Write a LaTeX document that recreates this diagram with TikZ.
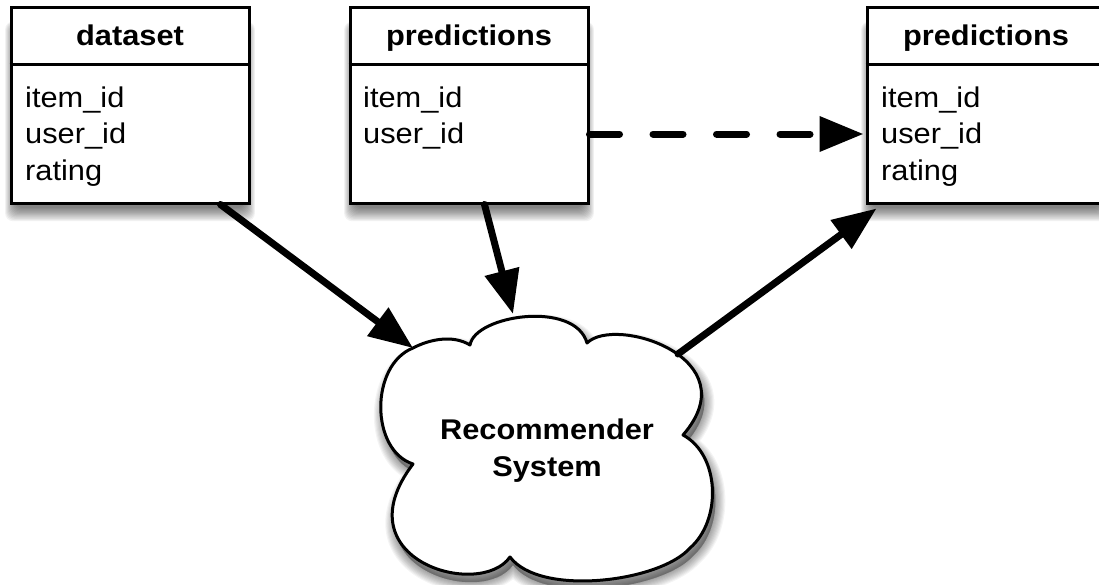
\documentclass[tikz,border=0pt]{standalone}
\usepackage{fontspec}
\setmainfont{Liberation Sans}[FakeStretch=1.08]
\usetikzlibrary{arrows.meta,calc}
\tikzset{
  tbl/.style={draw, line width=3pt, fill=white, minimum width=238pt, minimum height=196pt, inner sep=0pt},
  hdr/.style={font=\bfseries\fontsize{28.5}{32}\selectfont, anchor=base, inner sep=0pt},
  fld/.style={font=\fontsize{28.5}{32}\selectfont, anchor=base west, inner sep=0pt},
  flow/.style={line width=7pt, line cap=round, -{Triangle[length=44pt,width=34pt]}},
  dflow/.style={flow, dash pattern=on 30pt off 33.5pt},
  cloudtxt/.style={font=\bfseries\fontsize{28.5}{37}\selectfont, align=center, inner sep=0pt},
  cloudline/.style={draw, line width=3pt, fill=white, line join=round},
}
\def\cloudpath{(413,348) .. controls (428,340) and (452,334) .. (470,345)
 .. controls (475,315) and (575,300) .. (587,343)
 .. controls (615,315) and (750,358) .. (683,435)
 .. controls (720,455) and (722,520) .. (690,548)
 .. controls (660,582) and (540,597) .. (510,557)
 .. controls (480,600) and (340,560) .. (413,464)
 .. controls (370,450) and (370,365) .. (413,348) -- cycle}
\newcommand{\boxshadow}[4]{%
  \foreach \k in {0,...,11}{%
    \fill[black, opacity=0.05, rounded corners=8pt]
      (#1-0.9*\k+4, #2+20-0.5*\k) rectangle (#3+0.9*\k-4, #4+5+1.2*\k);}%
}
\begin{document}
\begin{tikzpicture}[x=1pt,y=-1pt]
\useasboundingbox (0,0) rectangle (1099,584);
\clip (0,0) rectangle (1099,584);
\fill[white] (0,0) rectangle (1099,584);

% shadows
\boxshadow{11}{7}{249}{203}
\boxshadow{350}{7}{588}{203}
\boxshadow{867}{7}{1105}{203}
\foreach \k in {1,...,9}{%
  \path[draw=black, fill=black, draw opacity=0.045, fill opacity=0.045,
        line width=\k*2.2pt, line join=round, shift={(3,8)}] \cloudpath;}

% cloud
\path[cloudline] \cloudpath;
\node[cloudtxt] (rs) at (547,451) {Recommender\\System};
\coordinate (c1) at (413,348);
\coordinate (ctop) at (513,314);
\coordinate (cr) at (678,354);

% tables
\node[tbl] (ds) at (130,105) {};
\draw[line width=3pt] (ds.west |- 0,64) -- (ds.east |- 0,64);
\node[hdr] (dsh) at (130,45) {dataset};
\node[fld] (ds1) at (25,107) {item\_id};
\node[fld] (ds2) at (25,143.5) {user\_id};
\node[fld] (ds3) at (25,180) {rating};

\node[tbl] (pr) at (469,105) {};
\draw[line width=3pt] (pr.west |- 0,64) -- (pr.east |- 0,64);
\node[hdr] (prh) at (469,45) {predictions};
\node[fld] (pr1) at (363,107) {item\_id};
\node[fld] (pr2) at (363,143.5) {user\_id};

\node[tbl] (po) at (986,105) {};
\draw[line width=3pt] (po.west |- 0,64) -- (po.east |- 0,64);
\node[hdr] (poh) at (986,45) {predictions};
\node[fld] (po1) at (881,107) {item\_id};
\node[fld] (po2) at (881,143.5) {user\_id};
\node[fld] (po3) at (881,180) {rating};

% connectors
\draw[flow] ($(ds.south west)+(211,0)$) -- (c1);
\draw[flow] ($(pr.south west)+(136,0)$) -- (ctop);
\draw[flow] (cr) -- ($(po.south west)+(11,4)$);
\draw[dflow] (pr.east |- 0,134) -- ($(po.west |- 0,134)+(-2,0)$);
\end{tikzpicture}
\end{document}
